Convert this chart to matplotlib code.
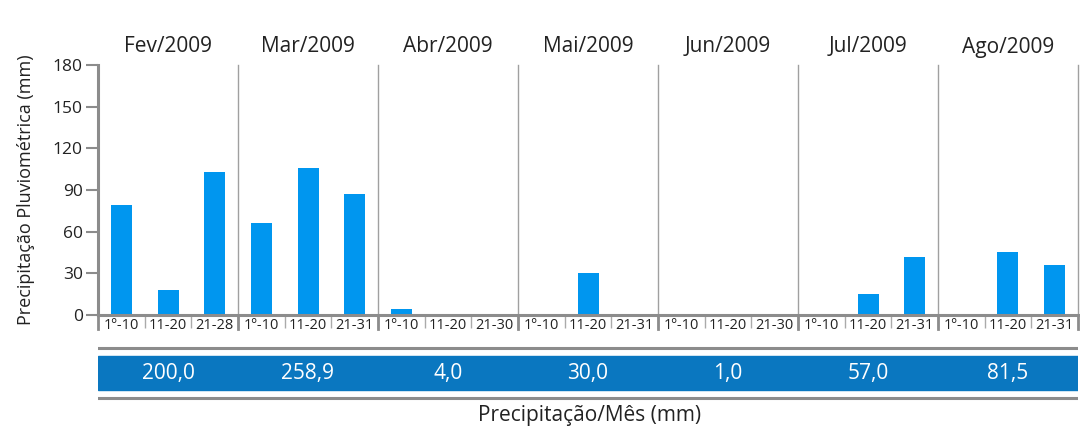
import numpy as np
import matplotlib
matplotlib.use('Agg')
import matplotlib.pyplot as plt

plt.rcParams['font.family'] = ['Open Sans', 'DejaVu Sans']

# Data
months = ['Fev/2009', 'Mar/2009', 'Abr/2009', 'Mai/2009', 'Jun/2009', 'Jul/2009', 'Ago/2009']
periods = [
    ['1º-10', '11-20', '21-28'],
    ['1º-10', '11-20', '21-31'],
    ['1º-10', '11-20', '21-30'],
    ['1º-10', '11-20', '21-31'],
    ['1º-10', '11-20', '21-30'],
    ['1º-10', '11-20', '21-31'],
    ['1º-10', '11-20', '21-31'],
]
rain = [
    [79.0, 18.0, 103.0],
    [66.0, 106.0, 86.9],
    [4.0, 0.0, 0.0],
    [0.0, 30.0, 0.0],
    [0.0, 1.0, 0.0],
    [0.0, 15.0, 42.0],
    [0.0, 45.5, 36.0],
]
month_totals = ['200,0', '258,9', '4,0', '30,0', '1,0', '57,0', '81,5']
yticks = [0, 30, 60, 90, 120, 150, 180]

BAR = '#0096ef'
BAND = '#0a77c0'
GRAY = '#8c8c8c'

W, H = 1080, 433
fig = plt.figure(figsize=(W / 100, H / 100), dpi=100)
fig.patch.set_facecolor('white')

def px_axes(x0, y0, x1, y1):
  return fig.add_axes([x0 / W, 1 - y1 / H, (x1 - x0) / W, (y1 - y0) / H])

ax = px_axes(98, 65, 1078, 315)

values = np.array(rain).ravel()
labels = [p for ps in periods for p in ps]
x = np.arange(len(values))
ax.bar(x, values, width=0.45, color=BAR, zorder=2)

ax.set_xlim(-0.5, len(values) - 0.5)
ax.set_ylim(0, 180)
ax.set_yticks(yticks)
ax.tick_params(axis='y', direction='out', length=9, width=1.5, color=GRAY,
               labelsize=12.5, labelcolor='#222222', pad=2)

# sub-period boundary ticks (major, no label), sub-period labels (minor)
bounds = np.arange(0.5, len(values) - 1, 1.0)
ax.set_xticks(bounds)
ax.set_xticklabels([])
ax.tick_params(axis='x', which='major', direction='out', length=9, width=1.0, color='#aaaaaa')
ax.set_xticks(x, minor=True)
ax.set_xticklabels(labels, minor=True)
ax.tick_params(axis='x', which='minor', length=0, labelsize=10.5, labelcolor='#222222', pad=2)

for s in ['top', 'right']:
  ax.spines[s].set_visible(False)
for s in ['left', 'bottom']:
  ax.spines[s].set_color(GRAY)
  ax.spines[s].set_linewidth(2.2)

# month separators and labels
tr = ax.get_xaxis_transform()
for i, m in enumerate(months):
  right = 3 * i + 2.5
  ax.plot([right, right], [0, 1], transform=tr, color='#a0a0a0', lw=1.0, zorder=1,
          clip_on=False)
  ax.plot([right, right], [-0.055, 0], transform=tr, color=GRAY, lw=2.0, clip_on=False)
  ax.text(3 * i + 1, 1.072, m, transform=tr, ha='center', va='center',
          fontsize=15, color='#222222')
ax.plot([-0.5, -0.5], [-0.055, 0], transform=tr, color=GRAY, lw=2.0, clip_on=False)

ax.set_ylabel('Precipitação Pluviométrica (mm)', fontsize=13, color='#222222', labelpad=13)

# monthly totals band
bx = px_axes(98, 345, 1078, 401)
bx.set_xlim(ax.get_xlim())
bx.set_ylim(0, 1)
bx.axis('off')
bx.axhspan(0.2, 0.8, color=BAND)
bx.axhline(0.95, color=GRAY, lw=2.2)
bx.axhline(0.05, color=GRAY, lw=2.2)
for i, t in enumerate(month_totals):
  bx.text(3 * i + 1, 0.5, t, ha='center', va='center', fontsize=15, color='white')

fig.text(590 / W, 1 - 415 / H, 'Precipitação/Mês (mm)', ha='center', va='center',
         fontsize=15, color='#222222')

fig.savefig('out.png', dpi=100, facecolor='white')
